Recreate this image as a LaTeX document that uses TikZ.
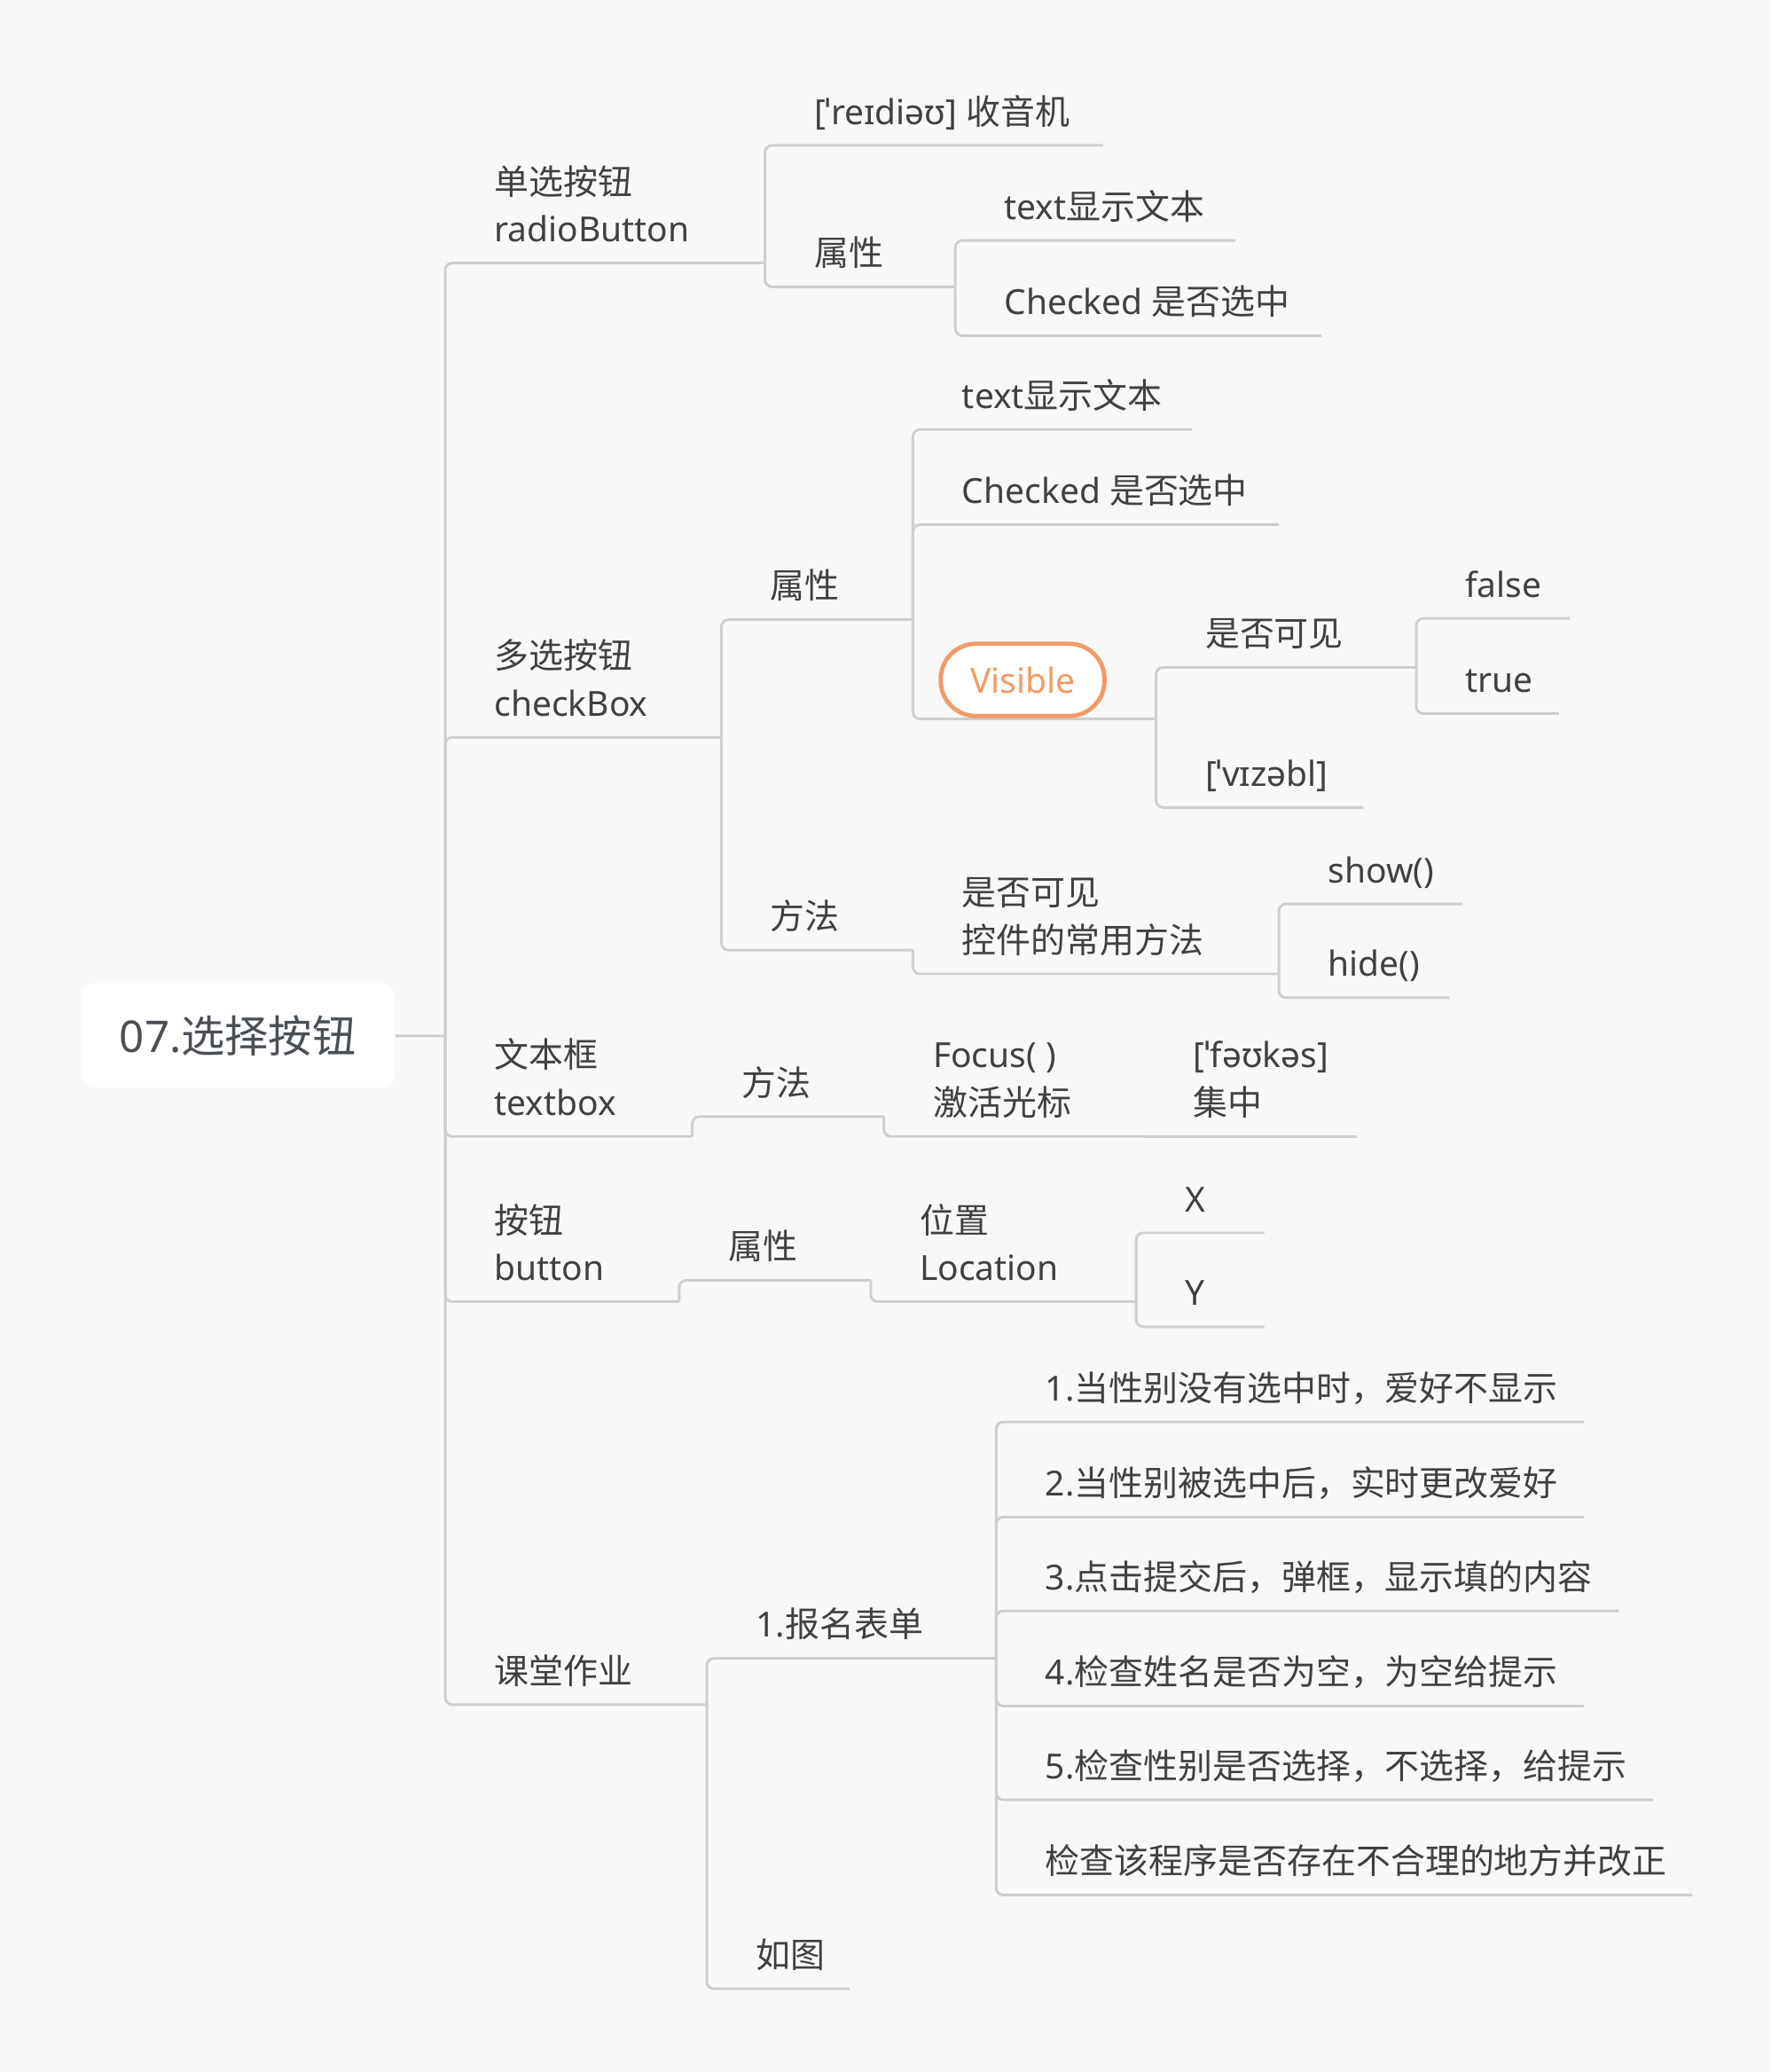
\documentclass[tikz,border=0pt]{standalone}
\usepackage{fontspec}
\setmainfont{Noto Sans}
\newfontfamily\cjk{Noto Sans CJK SC}
\newcommand\C[1]{{\cjk #1}}
\newcommand\twol[2]{\begin{tabular}[b]{@{}l@{}}#1\\#2\end{tabular}}
\definecolor{bgc}{HTML}{F8F8F8}
\definecolor{linec}{HTML}{CECECE}
\definecolor{txtc}{HTML}{404040}
\definecolor{rootc}{HTML}{4A4F56}
\definecolor{orangec}{HTML}{F29A64}
\tikzset{
  conn/.style={draw=linec, line width=1.5pt, rounded corners=4pt},
  txt/.style={anchor=base west, inner sep=0pt, text=txtc, font=\fontsize{19.6pt}{27pt}\selectfont},
  rootbox/.style={fill=white, rounded corners=8pt, inner sep=0pt, minimum width=178.5pt, minimum height=59.25pt, text=rootc, font=\fontsize{24.8pt}{30pt}\selectfont},
  visbox/.style={draw=orangec, line width=2.4pt, fill=white, rounded corners=20pt, minimum width=93pt, minimum height=41pt, inner sep=0pt, text=orangec, font=\fontsize{19.6pt}{27pt}\selectfont}
}
% name, x left, x right, y underline, text
\newcommand\topic[5]{%
  \coordinate (#1-l) at (#2,#4);
  \coordinate (#1-r) at (#3,#4);
  \node[txt] (#1) at ({#2+37},{#4-16}) {#5};
}
\newcommand\conn[2]{\draw[conn] (#1-r) |- (#2-r);}
\begin{document}
\begin{tikzpicture}[x=0.75pt,y=-0.75pt]
\fill[bgc] (0,0) rectangle (1340,1568);
\useasboundingbox (0,0) rectangle (1340,1568);

% root
\node[rootbox] (root) at (180,783.5) {07.\C{选择按钮}};
\coordinate (root-r) at (337,784);

% level 1
\topic{A}{337}{579}{199}{\twol{\C{单选按钮}}{radioButton}}
\topic{B}{337}{546}{558}{\twol{\C{多选按钮}}{checkBox}}
\topic{C}{337}{524}{860}{\twol{\C{文本框}}{textbox}}
\topic{D}{337}{514}{985}{\twol{\C{按钮}}{button}}
\topic{E}{337}{535}{1290}{\C{课堂作业}}

% A
\topic{A1}{579}{835}{110}{[ˈreɪdiəʊ] \C{收音机}}
\topic{A2}{579}{723}{217}{\C{属性}}
\topic{A21}{723}{935}{182}{text\C{显示文本}}
\topic{A22}{723}{1000}{254}{Checked \C{是否选中}}

% B
\topic{B1}{546}{691}{469}{\C{属性}}
\topic{B2}{546}{691}{719}{\C{方法}}
\topic{B11}{691}{902}{325}{text\C{显示文本}}
\topic{B12}{691}{968}{397}{Checked \C{是否选中}}
\coordinate (B13-l) at (691,544);
\coordinate (B13-r) at (875,544);
\topic{B131}{875}{1072}{505}{\C{是否可见}}
\topic{B132}{875}{1032}{611}{[ˈvɪzəbl]}
\topic{B1311}{1072}{1188}{468}{false}
\topic{B1312}{1072}{1180}{540}{true}
\topic{B21}{691}{968}{737}{\twol{\C{是否可见}}{\C{控件的常用方法}}}
\topic{B211}{968}{1107}{684}{show()}
\topic{B212}{968}{1097}{755}{hide()}

% C
\topic{C1}{524}{669}{845}{\C{方法}}
\topic{C11}{669}{866}{860}{\twol{Focus( )}{\C{激活光标}}}
\topic{C111}{866}{1027}{860}{\twol{[ˈfəʊkəs]}{\C{集中}}}

% D
\topic{D1}{514}{659}{969}{\C{属性}}
\topic{D11}{659}{860}{985}{\twol{\C{位置}}{Location}}
\topic{D111}{860}{957}{933}{X}
\topic{D112}{860}{957}{1004}{Y}

% E
\topic{E1}{535}{754}{1255}{1.\C{报名表单}}
\topic{E2}{535}{643}{1505}{\C{如图}}
\topic{E11}{754}{1199}{1076}{1.\C{当性别没有选中时，爱好不显示}}
\topic{E12}{754}{1199}{1148}{2.\C{当性别被选中后，实时更改爱好}}
\topic{E13}{754}{1225}{1219}{3.\C{点击提交后，弹框，显示填的内容}}
\topic{E14}{754}{1199}{1291}{4.\C{检查姓名是否为空，为空给提示}}
\topic{E15}{754}{1251}{1362}{5.\C{检查性别是否选择，不选择，给提示}}
\topic{E16}{754}{1281}{1434}{\C{检查该程序是否存在不合理的地方并改正}}

% connectors
\draw[conn] (root) -- (root-r);
\foreach \c in {A,B,C,D,E} {\conn{root}{\c}}
\conn{A}{A1} \conn{A}{A2}
\conn{A2}{A21} \conn{A2}{A22}
\conn{B}{B1} \conn{B}{B2}
\conn{B1}{B11} \conn{B1}{B12} \conn{B1}{B13}
\conn{B13}{B131} \conn{B13}{B132}
\conn{B131}{B1311} \conn{B131}{B1312}
\conn{B2}{B21}
\conn{B21}{B211} \conn{B21}{B212}
\conn{C}{C1}
\conn{C1}{C11}
\draw[conn] (C11-r) -- (C111-r);
\conn{D}{D1}
\conn{D1}{D11}
\conn{D11}{D111} \conn{D11}{D112}
\conn{E}{E1} \conn{E}{E2}
\foreach \c in {E11,E12,E13,E14,E15,E16} {\conn{E1}{\c}}

% Visible node
\node[visbox] (B13) at (774,514.5) {Visible};
\end{tikzpicture}
\end{document}
